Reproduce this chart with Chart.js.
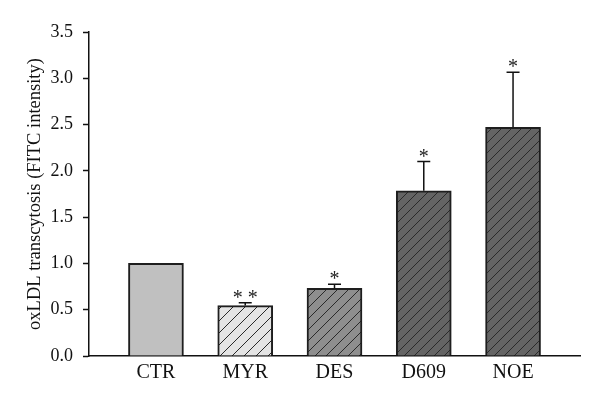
<!DOCTYPE html>
<html>
<head>
<meta charset="utf-8">
<script src="https://cdn.jsdelivr.net/npm/chart.js@4/dist/chart.umd.min.js"></script>
<style>
  html, body { margin: 0; padding: 0; background: #fff; }
  #wrap { width: 600px; height: 407px; }
</style>
</head>
<body>
<div id="wrap"><canvas id="chart" width="600" height="407"></canvas></div>
<script>
const groups = ['CTR', 'MYR', 'DES', 'D609', 'NOE'];
const means = [1.0, 0.545, 0.73, 1.785, 2.47];
const errors = [0, 0.03, 0.045, 0.315, 0.595];
const marks = ['', '* *', '*', '*', '*'];
const yTicks = [0, 0.5, 1.0, 1.5, 2.0, 2.5, 3.0, 3.5];

// diagonal hatch fill
function hatch(bg, size) {
    const c = document.createElement('canvas');
    c.width = size;
    c.height = size;
    const g = c.getContext('2d');
    g.fillStyle = bg;
    g.fillRect(0, 0, size, size);
    g.strokeStyle = '#2a2a2a';
    g.lineWidth = 1;
    g.beginPath();
    g.moveTo(-2, size + 2); g.lineTo(size + 2, -2);
    g.moveTo(-2, 2); g.lineTo(2, -2);
    g.moveTo(size - 2, size + 2); g.lineTo(size + 2, size - 2);
    g.stroke();
    return g.createPattern(c, 'repeat');
}

const fills = [
    '#c0c0c0',
    hatch('#e4e4e4', 12),
    hatch('#8e8e8e', 11),
    hatch('#646464', 10),
    hatch('#646464', 10)
];

const errorBars = {
    id: 'errorBars',
    afterDatasetsDraw(chart) {
        const ctx = chart.ctx;
        const xs = chart.scales.x, ys = chart.scales.y;
        ctx.save();
        ctx.strokeStyle = '#111';
        ctx.lineWidth = 1.5;
        ctx.fillStyle = '#222';
        ctx.font = '20px "Liberation Serif", serif';
        ctx.textAlign = 'center';
        ctx.textBaseline = 'alphabetic';
        means.forEach((m, i) => {
            const x = xs.getPixelForValue(i);
            const top = ys.getPixelForValue(m);
            const hi = ys.getPixelForValue(m + errors[i]);
            if (errors[i] > 0) {
                ctx.beginPath();
                ctx.moveTo(x, top);
                ctx.lineTo(x, hi);
                ctx.moveTo(x - 6.5, hi);
                ctx.lineTo(x + 6.5, hi);
                ctx.stroke();
            }
            if (marks[i]) ctx.fillText(marks[i], x, hi + 1);
        });
        ctx.restore();
    }
};

new Chart(document.getElementById('chart'), {
    type: 'bar',
    data: {
        datasets: [{
            data: means.map((v, i) => ({ x: i, y: v })),
            backgroundColor: fills,
            borderColor: '#1e1e1e',
            borderWidth: 2,
            borderSkipped: 'bottom',
            barThickness: 55
        }]
    },
    options: {
        responsive: false,
        animation: false,
        layout: { padding: { top: 32, right: 20, left: 24, bottom: 0 } },
        plugins: { legend: { display: false }, tooltip: { enabled: false } },
        scales: {
            x: {
                type: 'linear',
                offset: false,
                min: -0.75,
                max: 4.75,
                afterBuildTicks: s => { s.ticks = groups.map((g, i) => ({ value: i })); },
                afterFit: s => { s.height = 51; },
                ticks: {
                    callback: v => groups[v],
                    color: '#111',
                    padding: 5,
                    maxRotation: 0,
                    font: { family: '"Liberation Serif", serif', size: 20 }
                },
                grid: { display: false, drawTicks: false },
                border: { color: '#111', width: 1.5 }
            },
            y: {
                min: 0,
                max: 3.5,
                afterBuildTicks: s => { s.ticks = yTicks.map(v => ({ value: v })); },
                afterFit: s => { s.width = 65; },
                ticks: {
                    callback: v => v.toFixed(1),
                    color: '#111',
                    padding: 10,
                    font: { family: '"Liberation Serif", serif', size: 18 }
                },
                grid: { drawOnChartArea: false, tickLength: 6, color: '#111', tickWidth: 1.5 },
                border: { color: '#111', width: 1.5 },
                title: {
                    display: true,
                    text: 'oxLDL transcytosis (FITC intensity)',
                    color: '#111',
                    padding: { top: 0, bottom: 4 },
                    font: { family: '"Liberation Serif", serif', size: 18.5 }
                }
            }
        }
    },
    plugins: [errorBars]
});
</script>
</body>
</html>
